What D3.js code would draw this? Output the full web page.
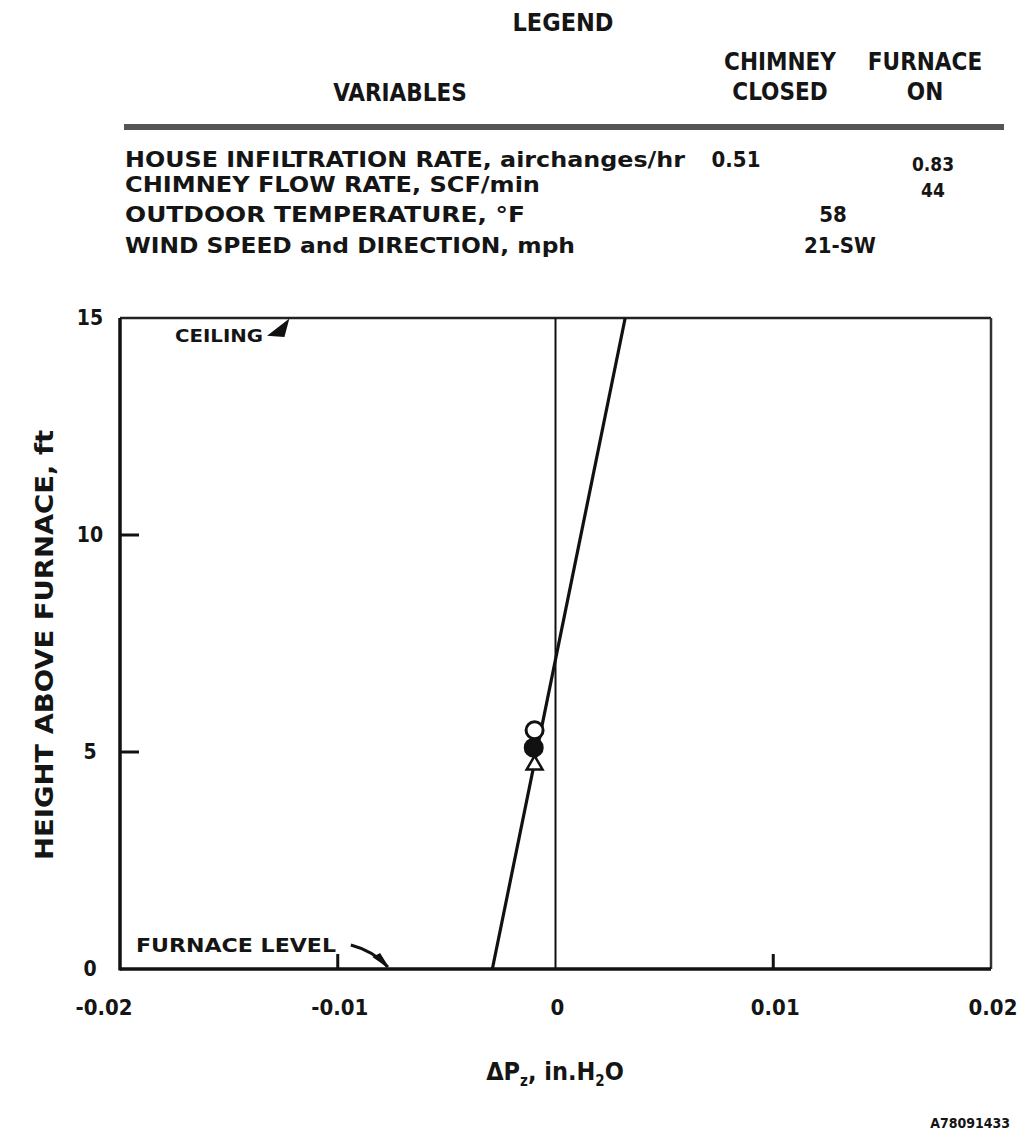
<!DOCTYPE html>
<meta charset="utf-8">
<style>
    html, body { margin: 0; padding: 0; background: #fff; }
    text { font-family: "DejaVu Sans Condensed", "DejaVu Sans", sans-serif; font-weight: bold; fill: #151515; }
</style>
<body>
<script src="https://cdn.jsdelivr.net/npm/d3@7"></script>
<svg id="chart" width="1025" height="1143"></svg>
<script>
  // legend table
  var legendTitle = "LEGEND";
  var legendHeads = [["VARIABLES"], ["CHIMNEY", "CLOSED"], ["FURNACE", "ON"]];
  var legendVars = ["HOUSE  INFILTRATION RATE, airchanges/hr", "CHIMNEY  FLOW RATE,  SCF/min",
                    "OUTDOOR  TEMPERATURE, \u00B0F", "WIND SPEED and DIRECTION, mph"];
  var chimneyClosed = ["0.51", "", "", ""];
  var furnaceOn = ["0.83", "44", "", ""];
  var shared = ["", "", "58", "21-SW"];   // values common to both runs

  // axes
  var xTicks = [-0.02, -0.01, 0, 0.01, 0.02];
  var xTickLabels = ["-0.02", "-0.01", "0", "0.01", "0.02"];
  var yTicks = [0, 5, 10, 15];

  // pressure-difference profile (height ft, dP in.H2O)
  var profileH = [0, 15];
  var profileDP = [-0.0029, 0.0032];

  // measured points
  var markerH = [5.5, 5.1, 4.7];
  var markerDP = [-0.00096, -0.001, -0.00096];
  var markerShape = ["open", "filled", "triangle"];

  var svg = d3.select("#chart");
  var x = d3.scaleLinear().domain([-0.02, 0.02]).range([120, 991]);
  var y = d3.scaleLinear().domain([0, 15]).range([969, 318]);

  // ---- legend ----
  svg.append("text").attr("x", 563).attr("y", 31).attr("text-anchor", "middle")
    .attr("font-size", 25).text(legendTitle);
  var headX = [400, 780, 925];
  legendHeads.forEach(function (h, i) {
    h.forEach(function (s, j) {
      svg.append("text").attr("x", headX[i]).attr("text-anchor", "middle")
        .attr("y", h.length == 1 ? 101 : 70 + j * 30)
        .attr("font-size", 24).text(s);
    });
  });
  svg.append("line").attr("x1", 124).attr("x2", 1004).attr("y1", 127).attr("y2", 127)
    .attr("stroke", "#555").attr("stroke-width", 6);

  var rowY = [167, 192, 222, 253];
  var rowLen = [560, 415, 400, 450];
  legendVars.forEach(function (s, i) {
    svg.append("text").attr("x", 125).attr("y", rowY[i]).attr("font-size", 22)
      .attr("textLength", rowLen[i]).attr("lengthAdjust", "spacingAndGlyphs").text(s);
    if (chimneyClosed[i]) svg.append("text").attr("x", 736).attr("y", rowY[i])
      .attr("text-anchor", "middle").attr("font-size", 22).text(chimneyClosed[i]);
    if (furnaceOn[i]) svg.append("text").attr("x", 933).attr("y", i == 0 ? 171 : 197)
      .attr("text-anchor", "middle").attr("font-size", 19).text(furnaceOn[i]);
    if (shared[i]) svg.append("text").attr("x", i == 2 ? 833 : 840).attr("y", rowY[i])
      .attr("text-anchor", "middle").attr("font-size", 22).text(shared[i]);
  });

  // ---- plot frame ----
  var g = svg.append("g");
  var x0 = x(-0.02), x1 = x(0.02), yb = y(0), yt = y(15);
  g.append("line").attr("x1", x0).attr("x2", x1).attr("y1", yt).attr("y2", yt)
    .attr("stroke", "#222").attr("stroke-width", 2.5);
  g.append("line").attr("x1", x1).attr("x2", x1).attr("y1", yt).attr("y2", yb)
    .attr("stroke", "#333").attr("stroke-width", 2.5);
  g.append("line").attr("x1", x0).attr("x2", x0).attr("y1", yt).attr("y2", yb + 1.5)
    .attr("stroke", "#111").attr("stroke-width", 3.5);
  g.append("line").attr("x1", x0).attr("x2", x1).attr("y1", yb).attr("y2", yb)
    .attr("stroke", "#111").attr("stroke-width", 3.5);

  // zero line
  g.append("line").attr("x1", x(0)).attr("x2", x(0)).attr("y1", yt).attr("y2", yb)
    .attr("stroke", "#111").attr("stroke-width", 2);

  // inward ticks
  yTicks.filter(function (d) { return d > 0 && d < 15; }).forEach(function (d) {
    g.append("line").attr("x1", x0).attr("x2", x0 + 19).attr("y1", y(d)).attr("y2", y(d))
      .attr("stroke", "#111").attr("stroke-width", 3);
  });
  xTicks.filter(function (d) { return d != 0 && Math.abs(d) < 0.02; }).forEach(function (d) {
    g.append("line").attr("x1", x(d)).attr("x2", x(d)).attr("y1", yb).attr("y2", yb - 15)
      .attr("stroke", "#111").attr("stroke-width", 3);
  });

  // tick labels
  xTicks.forEach(function (d, i) {
    svg.append("text").attr("x", x(d) + (i == 0 ? -16 : 2)).attr("y", yb + 46)
      .attr("text-anchor", "middle").attr("font-size", 22).text(xTickLabels[i]);
  });
  yTicks.forEach(function (d) {
    svg.append("text").attr("x", 90).attr("y", y(d) + 7).attr("text-anchor", "middle")
      .attr("font-size", 21).text(d);
  });

  // axis titles
  svg.append("text").attr("transform", "translate(53,645) rotate(-90)").attr("text-anchor", "middle")
    .attr("font-size", 24).attr("textLength", 430).attr("lengthAdjust", "spacingAndGlyphs")
    .text("HEIGHT ABOVE FURNACE, ft");
  var xt = svg.append("text").attr("x", 555).attr("y", 1080).attr("text-anchor", "middle")
    .attr("font-size", 25);
  xt.append("tspan").text("\u0394P");
  xt.append("tspan").attr("font-size", 15).attr("dy", 6).text("z");
  xt.append("tspan").attr("dy", -6).text(", in.H");
  xt.append("tspan").attr("font-size", 15).attr("dy", 6).text("2");
  xt.append("tspan").attr("dy", -6).text("O");

  svg.append("text").attr("x", 1010).attr("y", 1128).attr("text-anchor", "end")
    .attr("font-size", 14).text("A78091433");

  // ---- profile line ----
  var line = d3.line().x(function (d) { return x(d[1]); }).y(function (d) { return y(d[0]); });
  g.append("path").datum(d3.zip(profileH, profileDP)).attr("d", line)
    .attr("fill", "none").attr("stroke", "#111").attr("stroke-width", 3.2);

  // ---- markers ----
  markerH.forEach(function (h, i) {
    var cx = x(markerDP[i]), cy = y(h);
    if (markerShape[i] == "triangle") {
      g.append("path").attr("d", d3.symbol().type(d3.symbolTriangle).size(110)())
        .attr("transform", "translate(" + cx + "," + cy + ")")
        .attr("fill", "#fff").attr("stroke", "#111").attr("stroke-width", 2.5);
    } else {
      g.append("circle").attr("cx", cx).attr("cy", cy).attr("r", 8.5)
        .attr("fill", markerShape[i] == "filled" ? "#111" : "#fff")
        .attr("stroke", "#111").attr("stroke-width", 3);
    }
  });

  // ---- annotations ----
  svg.append("text").attr("x", 175).attr("y", 342).attr("font-size", 18)
    .attr("textLength", 88).attr("lengthAdjust", "spacingAndGlyphs").text("CEILING");
  var cx0 = x(-0.0123), cy0 = y(15) + 3;
  svg.append("path")
    .attr("d", "M" + (cx0 - 18) + "," + (cy0 + 14) + "L" + cx0 + "," + cy0 +
      "L" + (cx0 - 4) + "," + (cy0 + 15) + "Z")
    .attr("fill", "#111").attr("stroke", "#111").attr("stroke-width", 2);

  svg.append("text").attr("x", 136).attr("y", 952).attr("font-size", 19)
    .attr("textLength", 200).attr("lengthAdjust", "spacingAndGlyphs").text("FURNACE  LEVEL");
  var fx = x(-0.0077), fy = y(0) - 2;
  svg.append("path")
    .attr("d", "M" + (fx - 37) + "," + (fy - 22) + "Q" + (fx - 14) + "," + (fy - 16) + " " + fx + "," + fy)
    .attr("fill", "none").attr("stroke", "#111").attr("stroke-width", 3);
  svg.append("path")
    .attr("d", "M" + fx + "," + fy + "L" + (fx - 14) + "," + (fy - 10) + "L" + (fx - 8) + "," + (fy - 13) + "Z")
    .attr("fill", "#111").attr("stroke", "#111").attr("stroke-width", 1.5);
</script>
</body>
